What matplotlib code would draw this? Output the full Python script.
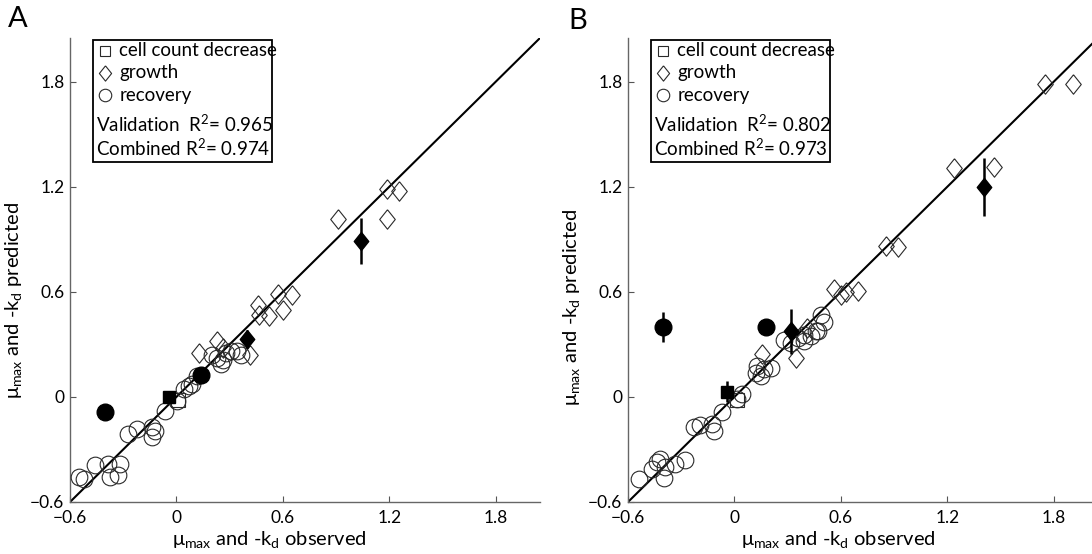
import numpy as np
import matplotlib
matplotlib.use('Agg')
import matplotlib.pyplot as plt
from matplotlib.patches import Rectangle

plt.rcParams['font.family'] = ['Lato', 'DejaVu Sans']
plt.rcParams['mathtext.fontset'] = 'custom'
plt.rcParams['mathtext.rm'] = 'Lato'
plt.rcParams['mathtext.it'] = 'Lato:italic'

# ---- datos panel A ----
a_rec_x = [-0.547, -0.52, -0.458, -0.383, -0.317, -0.373, -0.332, -0.275, -0.222, -0.137, -0.137, -0.118,
           -0.062, 0.004, 0.04, 0.07, 0.09, 0.117, 0.20, 0.23, 0.25, 0.26, 0.278, 0.306, 0.344, 0.363]
a_rec_y = [-0.457, -0.47, -0.39, -0.381, -0.385, -0.457, -0.447, -0.211, -0.182, -0.173, -0.226, -0.192,
           -0.079, -0.022, 0.044, 0.063, 0.072, 0.12, 0.24, 0.223, 0.186, 0.21, 0.252, 0.261, 0.261, 0.242]
a_gro_x = [0.127, 0.23, 0.26, 0.416, 0.46, 0.467, 0.52, 0.575, 0.60, 0.65, 0.911, 1.19, 1.254, 1.19]
a_gro_y = [0.252, 0.318, 0.28, 0.24, 0.526, 0.47, 0.46, 0.59, 0.497, 0.58, 1.016, 1.187, 1.178, 1.016]
a_dec_x = [0.01]
a_dec_y = [-0.02]
# validacion (rellenos) con barras de error
a_vsq_x, a_vsq_y, a_vsq_e = [-0.04], [0.0], [0.03]
a_vci_x, a_vci_y, a_vci_e = [-0.40, 0.14], [-0.085, 0.125], [0.0, 0.02]
a_vdi_x, a_vdi_y, a_vdi_e = [0.40, 1.04], [0.33, 0.89], [0.05, 0.13]
a_r2 = ['0.965', '0.974']

# ---- datos panel B ----
b_rec_x = [-0.536, -0.466, -0.438, -0.419, -0.396, -0.39, -0.334, -0.277, -0.23, -0.192, -0.126, -0.117,
           -0.069, 0.016, 0.044, 0.12, 0.13, 0.166, 0.204, 0.148, 0.28, 0.318, 0.356, 0.39, 0.43, 0.47,
           0.507, 0.488, 0.46, 0.393]
b_rec_y = [-0.471, -0.409, -0.372, -0.352, -0.465, -0.40, -0.381, -0.362, -0.173, -0.158, -0.154, -0.192,
           -0.088, -0.012, 0.016, 0.138, 0.176, 0.157, 0.167, 0.12, 0.327, 0.308, 0.336, 0.318, 0.346, 0.375,
           0.43, 0.469, 0.375, 0.356]
b_gro_x = [0.157, 0.346, 0.41, 0.563, 0.601, 0.629, 0.699, 0.856, 0.922, 1.237, 1.466, 1.75, 1.91]
b_gro_y = [0.245, 0.223, 0.393, 0.616, 0.582, 0.601, 0.605, 0.86, 0.856, 1.309, 1.313, 1.787, 1.787]
b_dec_x = [0.016]
b_dec_y = [-0.02]
b_vsq_x, b_vsq_y, b_vsq_e = [-0.04], [0.03], [0.06]
b_vci_x, b_vci_y, b_vci_e = [-0.40, 0.18], [0.40, 0.40], [0.085, 0.0]
b_vdi_x, b_vdi_y, b_vdi_e = [0.32, 1.41], [0.375, 1.20], [0.13, 0.165]
b_r2 = ['0.802', '0.973']

ticks = [-0.6, 0, 0.6, 1.2, 1.8]
tick_labels = ['\u22120.6', '0', '0.6', '1.2', '1.8']
lim = (-0.6, 2.05)

diamond = [(0, 1), (0.8, 0), (0, -1), (-0.8, 0), (0, 1)]
ec = '#2a2a2a'


def panel(ax, rec, gro, dec, vsq, vci, vdi, r2, xlab_pos, ylab_pos):
    ax.plot(lim, lim, color='black', lw=1.5, zorder=2)
    ax.plot(rec[0], rec[1], ls='none', marker='o', ms=12, mfc='none', mec=ec, mew=0.8, zorder=3)
    ax.plot(gro[0], gro[1], ls='none', marker=diamond, ms=14, mfc='none', mec=ec, mew=0.8, zorder=3)
    ax.plot(dec[0], dec[1], ls='none', marker='s', ms=10, mfc='none', mec=ec, mew=0.8, zorder=3)
    for (x, y, e), m, ms in [(vsq, 's', 9), (vci, 'o', 12), (vdi, diamond, 13)]:
        ax.errorbar(x, y, yerr=e, fmt='none', ecolor='black', elinewidth=1.8, capsize=0, zorder=4)
        ax.plot(x, y, ls='none', marker=m, ms=ms, mfc='black', mec='black', zorder=5)

    ax.set_xlim(lim)
    ax.set_ylim(lim)
    ax.set_xticks(ticks)
    ax.set_xticklabels(tick_labels)
    ax.set_yticks(ticks)
    ax.set_yticklabels(tick_labels)
    ax.tick_params(direction='in', length=4, width=0.8, color='#555555', labelsize=12.5)
    ax.tick_params(axis='x', pad=6)
    ax.tick_params(axis='y', pad=4)
    for s in ['top', 'right']:
        ax.spines[s].set_visible(False)
    for s in ['left', 'bottom']:
        ax.spines[s].set_color('#666666')
        ax.spines[s].set_linewidth(1.0)

    ax.set_xlabel(r'$\mathregular{\mu_{max}}$ and -k$_\mathregular{d}$ observed', fontsize=14.5, labelpad=0)
    ax.set_ylabel(r'$\mathregular{\mu_{max}}$ and -k$_\mathregular{d}$ predicted', fontsize=14.5, labelpad=2)
    ax.xaxis.set_label_coords(xlab_pos, -0.058)
    ax.yaxis.set_label_coords(-0.098, ylab_pos)

    # caja de leyenda
    ax.add_patch(Rectangle((0.049, 0.733), 0.38, 0.263, transform=ax.transAxes, fill=False,
                           ec='black', lw=1.3, clip_on=False, zorder=6))
    rows = [0.972, 0.925, 0.877]
    names = ['cell count decrease', 'growth', 'recovery']
    for yy, mk, ms, nm in zip(rows, ['s', diamond, 'o'], [7, 11, 9], names):
        ax.plot([0.075], [yy], transform=ax.transAxes, ls='none', marker=mk, ms=ms,
                mfc='none', mec=ec, mew=0.8, clip_on=False, zorder=7)
        ax.text(0.105, yy, nm, transform=ax.transAxes, fontsize=13.5, va='center', ha='left')
    ax.text(0.056, 0.815, 'Validation  R$^2$= ' + r2[0], transform=ax.transAxes,
            fontsize=13.5, va='center', ha='left')
    ax.text(0.056, 0.762, 'Combined R$^2$= ' + r2[1], transform=ax.transAxes,
            fontsize=13.5, va='center', ha='left')


fig = plt.figure(figsize=(10.92, 5.54), dpi=100)
ax1 = fig.add_axes([70 / 1092, 52 / 554, 470 / 1092, 464 / 554])
ax2 = fig.add_axes([628 / 1092, 52 / 554, 470 / 1092, 464 / 554])

panel(ax1, (a_rec_x, a_rec_y), (a_gro_x, a_gro_y), (a_dec_x, a_dec_y),
      (a_vsq_x, a_vsq_y, a_vsq_e), (a_vci_x, a_vci_y, a_vci_e), (a_vdi_x, a_vdi_y, a_vdi_e),
      a_r2, 0.425, 0.435)
panel(ax2, (b_rec_x, b_rec_y), (b_gro_x, b_gro_y), (b_dec_x, b_dec_y),
      (b_vsq_x, b_vsq_y, b_vsq_e), (b_vci_x, b_vci_y, b_vci_e), (b_vdi_x, b_vdi_y, b_vdi_e),
      b_r2, 0.448, 0.42)

fig.text(8 / 1092, 1 - 6 / 554, 'A', fontsize=21, va='top', ha='left')
fig.text(568 / 1092, 1 - 8 / 554, 'B', fontsize=21, va='top', ha='left')

fig.savefig('out.png', dpi=100)
